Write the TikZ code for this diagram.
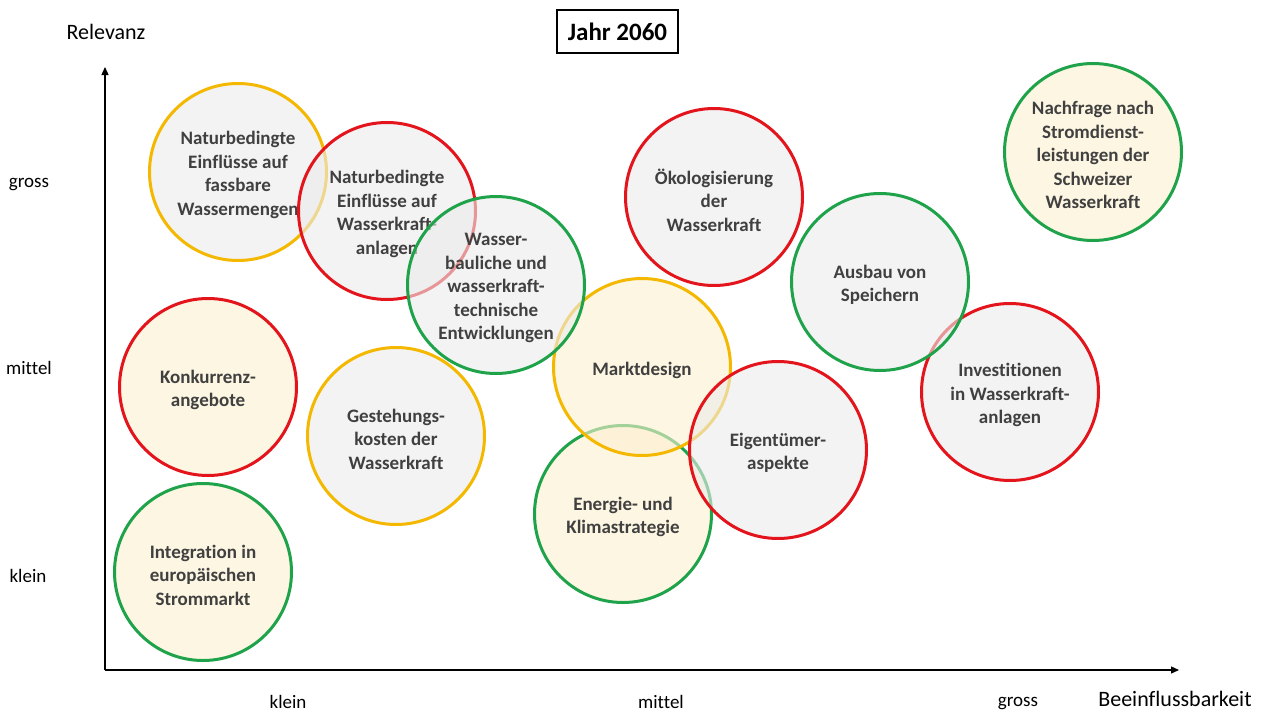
\documentclass[tikz,border=0pt]{standalone}
\usepackage{fontspec}
\setmainfont{Carlito}[Ligatures=CommonOff]
\usetikzlibrary{arrows.meta}
\definecolor{txtgray}{HTML}{404040}
\definecolor{ringred}{HTML}{E3141B}
\definecolor{ringyellow}{HTML}{F4B800}
\definecolor{ringgreen}{HTML}{1FA34A}
\definecolor{fillgray}{HTML}{EBEBEB}
\definecolor{fillcream}{HTML}{FDF0D0}
\tikzset{
  topic/.style={circle, minimum size=177pt, inner sep=0pt, line width=3pt,
    fill opacity=0.6},
  topictext/.style={align=center, text=txtgray, inner sep=0pt,
    font=\bfseries\fontsize{19}{23.5}\selectfont},
  gr/.style={fill=fillgray},
  cr/.style={fill=fillcream},
  red/.style={draw=ringred},
  yel/.style={draw=ringyellow},
  grn/.style={draw=ringgreen},
  axis/.style={line width=1.3pt, -{Triangle[length=8pt,width=7pt]}},
  ticklab/.style={font=\fontsize{19}{22}\selectfont, text=black},
  axlab/.style={font=\fontsize{22}{26}\selectfont, text=black}
}
% #1 fill style, #2 ring style, #3 name, #4 centre, #5 caption
\newcommand\topicbubble[5]{%
  \node[topic,#1,#2] (#3) at #4 {};
  \node[topictext] (#3-t) at ([yshift=-3pt]#3.center) {#5};
}
\begin{document}
\begin{tikzpicture}[x=1pt,y=-1pt]
\useasboundingbox (0,0) rectangle (1264,712);
\fill[white] (0,0) rectangle (1264,712);

% axes
\coordinate (O) at (105,670);
\coordinate (ytop) at (105,67);
\coordinate (xend) at (1179,670);
\draw[axis] (O) -- (ytop);
\draw[axis] (O) -- (xend);

% axis captions and scale labels
\node[axlab] (rel) at (106,32) {Relevanz};
\node[axlab] (bee) at (1175,699) {Beeinflussbarkeit};
\node[ticklab] (yg) at (29,185) {gross};
\node[ticklab] (ym) at (29,368) {mittel};
\node[ticklab] (yk) at (28,576) {klein};
\node[ticklab] (xk) at (288,702) {klein};
\node[ticklab] (xm) at (661,702) {mittel};
\node[ticklab] (xg) at (1018,704) {gross};

% title
\node[draw, line width=1.5pt, minimum width=121pt, minimum height=43pt,
  font=\bfseries\fontsize{25}{29}\selectfont] (title) at (617.5,31.5) {Jahr 2060};

% topics (drawn back to front)
\topicbubble{gr}{yel}{c1}{(238,172)}{Naturbedingte\\Einflüsse auf\\fassbare\\Wassermengen}
\topicbubble{gr}{red}{c2}{(387,211)}{Naturbedingte\\Einflüsse auf\\Wasserkraft-\\anlagen}
\topicbubble{cr}{grn}{c10}{(623,514)}{Energie- und\\Klimastrategie}
\topicbubble{cr}{yel}{c8}{(642,367)}{Marktdesign}
\topicbubble{gr}{grn}{c3}{(496,285)}{Wasser-\\bauliche und\\wasserkraft-\\technische\\Entwicklungen}
\topicbubble{gr}{red}{c9}{(778,450)}{Eigentümer-\\aspekte}
\topicbubble{gr}{red}{c7}{(1010,392)}{Investitionen\\in Wasserkraft-\\anlagen}
\topicbubble{gr}{grn}{c6}{(880,282)}{Ausbau von\\Speichern}
\topicbubble{gr}{red}{c4}{(714,197)}{Ökologisierung\\der\\Wasserkraft}
\topicbubble{cr}{grn}{c5}{(1093,152)}{Nachfrage nach\\Stromdienst-\\leistungen der\\Schweizer\\Wasserkraft}
\topicbubble{cr}{red}{c11}{(208,387)}{Konkurrenz-\\angebote}
\topicbubble{gr}{yel}{c12}{(396,436)}{Gestehungs-\\kosten der\\Wasserkraft}
\topicbubble{cr}{grn}{c13}{(203,572)}{Integration in\\europäischen\\Strommarkt}
\end{tikzpicture}
\end{document}
